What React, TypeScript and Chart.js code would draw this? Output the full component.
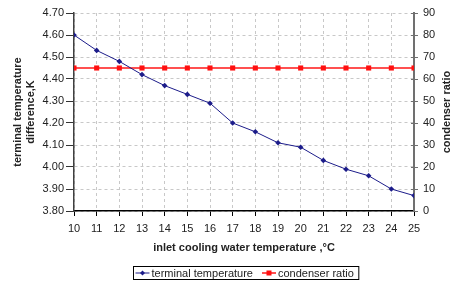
import React, { useEffect, useRef } from 'react';
import { Chart, registerables } from 'chart.js';

Chart.register(...registerables);

const inletTemps = [10, 11, 12, 13, 14, 15, 16, 17, 18, 19, 20, 21, 22, 23, 24, 25];
const terminalTemp = [4.60, 4.53, 4.48, 4.42, 4.37, 4.33, 4.29, 4.20, 4.16, 4.11, 4.09, 4.03, 3.99, 3.96, 3.90, 3.87];
const condenserRatio = [65, 65, 65, 65, 65, 65, 65, 65, 65, 65, 65, 65, 65, 65, 65, 65];
const seriesNames = ['terminal temperature', 'condenser ratio'];
const leftTitle = ['terminal temperature', 'difference,K'];
const rightTitle = 'condenser ratio';
const xTitle = 'inlet cooling water temperature ,°C';

const FONT = '"Liberation Sans", Arial, Helvetica, sans-serif';
const BLUE = '#1c1c8a';
const RED_LINE = '#ff5050';
const RED = '#ff1010';

function drawMarker(ctx: CanvasRenderingContext2D, kind: number, cx: number, cy: number) {
  if (kind === 0) {
    ctx.strokeStyle = BLUE;
    ctx.lineWidth = 1;
    ctx.beginPath();
    ctx.moveTo(cx - 7, cy);
    ctx.lineTo(cx + 7, cy);
    ctx.stroke();
    ctx.fillStyle = BLUE;
    ctx.beginPath();
    ctx.moveTo(cx, cy - 2.5);
    ctx.lineTo(cx + 2.5, cy);
    ctx.lineTo(cx, cy + 2.5);
    ctx.lineTo(cx - 2.5, cy);
    ctx.closePath();
    ctx.fill();
  } else {
    ctx.strokeStyle = RED_LINE;
    ctx.lineWidth = 2;
    ctx.beginPath();
    ctx.moveTo(cx - 7, cy);
    ctx.lineTo(cx + 7, cy);
    ctx.stroke();
    ctx.fillStyle = RED;
    ctx.fillRect(cx - 2.5, cy - 2.5, 5, 5);
  }
}

const extrasPlugin = {
  id: 'extras',
  afterDraw(chart: any) {
    const ctx: CanvasRenderingContext2D = chart.ctx;
    const area = chart.chartArea;
    const y1 = chart.scales.y1;
    ctx.save();
    // inner tick marks on right axis
    ctx.strokeStyle = '#707070';
    ctx.lineWidth = 1;
    y1.ticks.forEach((t: any) => {
      const py = Math.round(y1.getPixelForValue(t.value)) + 0.5;
      ctx.beginPath();
      ctx.moveTo(area.right - 3, py);
      ctx.lineTo(area.right, py);
      ctx.stroke();
    });
    // right title (reads bottom to top)
    ctx.font = 'bold 11px ' + FONT;
    ctx.fillStyle = '#222';
    ctx.textAlign = 'center';
    ctx.textBaseline = 'middle';
    ctx.translate(447, (area.top + area.bottom) / 2);
    ctx.rotate(-Math.PI / 2);
    ctx.fillText(rightTitle, 0, 0);
    ctx.restore();

    // legend
    ctx.save();
    ctx.font = '11px ' + FONT;
    const w0 = ctx.measureText(seriesNames[0]).width;
    const w1 = ctx.measureText(seriesNames[1]).width;
    const total = 2 + 14 + 2 + w0 + 9 + 14 + 2 + w1 + 5;
    const cx = (area.left + area.right) / 2 + 2;
    const left = Math.round(cx - total / 2) + 0.5;
    const top = 266.5;
    const h = 13;
    ctx.strokeStyle = '#000';
    ctx.lineWidth = 1;
    ctx.strokeRect(left, top, total, h);
    const my = top + h / 2;
    let x = left + 2;
    drawMarker(ctx, 0, x + 7, my);
    x += 16;
    ctx.fillStyle = '#222';
    ctx.textAlign = 'left';
    ctx.textBaseline = 'middle';
    ctx.fillText(seriesNames[0], x, my + 0.5);
    x += w0 + 9;
    drawMarker(ctx, 1, x + 7, my);
    x += 16;
    ctx.fillStyle = '#222';
    ctx.fillText(seriesNames[1], x, my + 0.5);
    ctx.restore();
  },
};

export default function App() {
  const ref = useRef<HTMLCanvasElement>(null);
  useEffect(() => {
    if (!ref.current) return;
    const chart = new Chart(ref.current, {
      type: 'line',
      data: {
        datasets: [
          {
            label: seriesNames[0],
            data: inletTemps.map((x, i) => ({ x, y: terminalTemp[i] })),
            borderColor: BLUE,
            backgroundColor: BLUE,
            borderWidth: 1,
            pointStyle: 'rectRot',
            pointRadius: 2.8,
            pointBorderWidth: 0,
            yAxisID: 'y',
          },
          {
            label: seriesNames[1],
            data: inletTemps.map((x, i) => ({ x, y: condenserRatio[i] })),
            borderColor: RED_LINE,
            backgroundColor: RED,
            borderWidth: 2,
            pointStyle: 'rect',
            pointRadius: 3.6,
            pointBorderWidth: 0,
            yAxisID: 'y1',
          },
        ],
      },
      options: {
        responsive: false,
        devicePixelRatio: 1,
        animation: false,
        layout: { padding: { left: 0, right: 0, top: 13, bottom: 23 } },
        plugins: { legend: { display: false }, tooltip: { enabled: false } },
        scales: {
          x: {
            type: 'linear',
            min: 10,
            max: 25,
            afterFit: (s: any) => { s.height = 50; },
            ticks: { stepSize: 1, padding: 6, color: '#222', font: { family: FONT, size: 11 } },
            grid: { color: '#c8c8c8', tickColor: '#000', tickLength: 5, lineWidth: 1 },
            border: { color: '#000', width: 1.5, dash: [3, 3] },
            title: { display: true, text: xTitle, color: '#222', font: { family: FONT, size: 11, weight: 'bold' }, padding: { top: 0, bottom: 6.4 } },
          },
          y: {
            type: 'linear',
            position: 'left',
            min: 3.8,
            max: 4.7,
            afterFit: (s: any) => { s.width = 74; },
            ticks: { stepSize: 0.1, padding: 2, color: '#222', font: { family: FONT, size: 11 }, callback: (v: any) => Number(v).toFixed(2) },
            grid: { color: '#c8c8c8', tickColor: '#333', tickLength: 8, lineWidth: 1 },
            border: { color: '#404040', width: 1.5, dash: [3, 3] },
            title: { display: true, text: leftTitle, color: '#222', font: { family: FONT, size: 11, weight: 'bold' }, padding: { top: 11, bottom: 0 } },
          },
          y1: {
            type: 'linear',
            position: 'right',
            min: 0,
            max: 90,
            afterFit: (s: any) => { s.width = 39; },
            ticks: { stepSize: 10, padding: 5, color: '#222', font: { family: FONT, size: 11 } },
            grid: { drawOnChartArea: false, tickColor: '#707070', tickLength: 4 },
            border: { color: '#707070', width: 2 },
          },
        },
      },
      plugins: [extrasPlugin],
    } as any);
    return () => chart.destroy();
  }, []);
  return (
    <div style={{ position: 'fixed', left: 0, top: 0, width: 453, height: 284, background: '#fff' }}>
      <canvas ref={ref} width={453} height={284} style={{ display: 'block', width: 453, height: 284 }} />
    </div>
  );
}
